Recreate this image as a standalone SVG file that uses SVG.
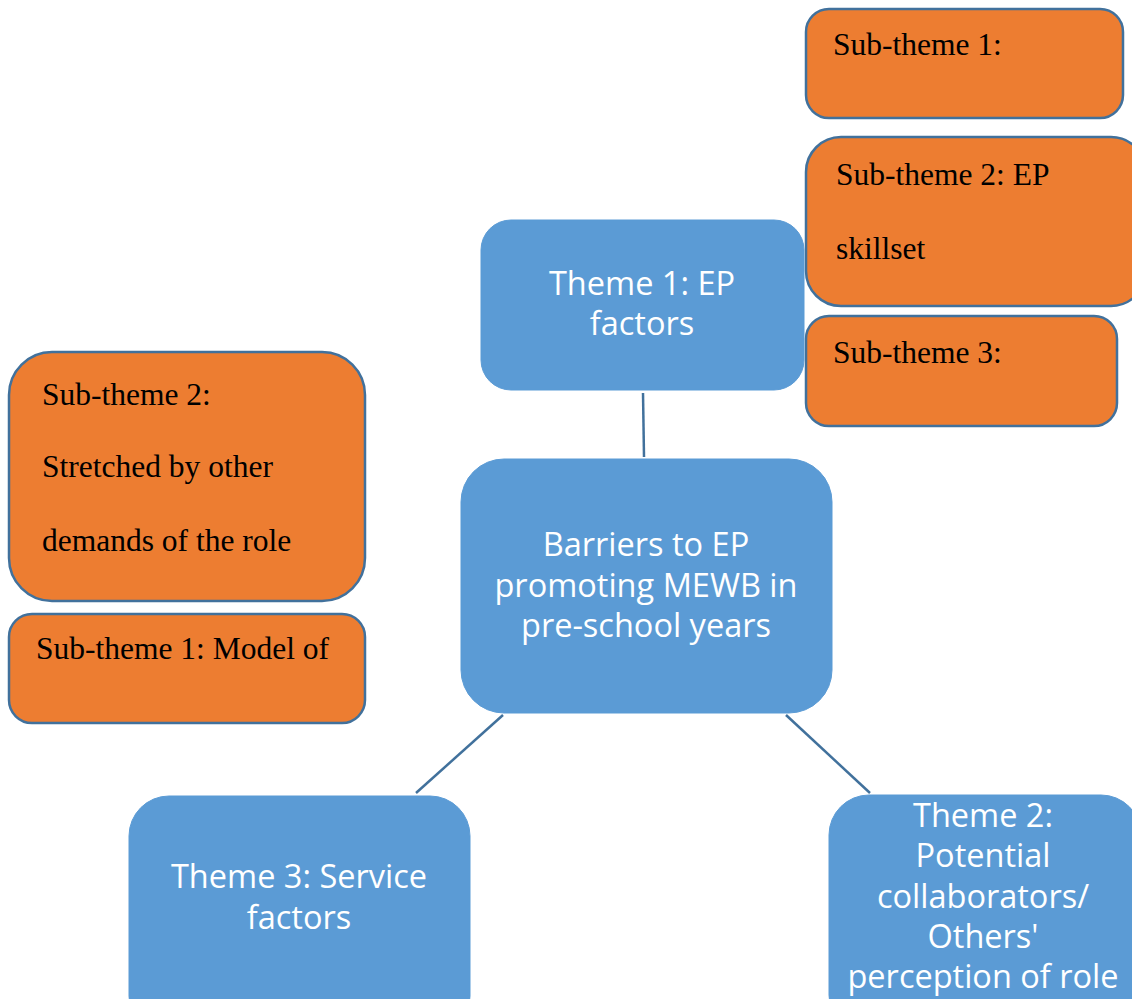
<svg xmlns="http://www.w3.org/2000/svg" width="1132" height="999" viewBox="0 0 1132 999">
<style>
.blue{fill:#5B9BD5;stroke:#5B9BD5;stroke-width:1}
.orange{fill:#ED7D31;stroke:#41719C;stroke-width:2.5}
.bt{font-family:"Open Sans","Liberation Sans",sans-serif;font-size:32.5px;fill:#FFFFFF;text-anchor:middle}
.ot{font-family:"Liberation Serif","Times New Roman",serif;font-size:31.5px;fill:#000000}
.conn line{stroke:#41719C;stroke-width:2.5}
</style>
<rect width="1132" height="999" fill="#FFFFFF"/>
<g class="conn" id="connectors">
<line x1="643" y1="393" x2="644" y2="457"/>
<line x1="503" y1="715" x2="416" y2="793"/>
<line x1="786" y1="715" x2="870" y2="793"/>
</g>
<g id="sub1-right">
<rect class="orange" x="806" y="9" width="317" height="109" rx="23"/>
<text class="ot" x="833" y="55">Sub-theme 1:</text>
</g>
<g id="sub2-right">
<rect class="orange" x="806" y="137" width="340" height="169" rx="35"/>
<text class="ot" x="836" y="185">Sub-theme 2: EP</text>
<text class="ot" x="836" y="259">skillset</text>
</g>
<g id="sub3-right">
<rect class="orange" x="806" y="316" width="311" height="110" rx="23"/>
<text class="ot" x="833" y="363">Sub-theme 3:</text>
</g>
<g id="theme1">
<rect class="blue" x="481" y="220" width="323" height="170" rx="30"/>
<text class="bt" x="642" y="295">Theme 1: EP</text>
<text class="bt" x="642" y="335">factors</text>
</g>
<g id="sub2-left">
<rect class="orange" x="9" y="352" width="356" height="249" rx="43"/>
<text class="ot" x="42" y="405">Sub-theme 2:</text>
<text class="ot" x="42" y="477">Stretched by other</text>
<text class="ot" x="42" y="551">demands of the role</text>
</g>
<g id="sub1-left">
<rect class="orange" x="9" y="614" width="356" height="109" rx="23"/>
<text class="ot" x="36" y="659">Sub-theme 1: Model of</text>
</g>
<g id="center">
<rect class="blue" x="461" y="459" width="371" height="254" rx="43"/>
<text class="bt" x="646" y="556">Barriers to EP</text>
<text class="bt" x="646" y="597">promoting MEWB in</text>
<text class="bt" x="646" y="637">pre-school years</text>
</g>
<g id="theme3">
<rect class="blue" x="129" y="796" width="341" height="240" rx="40"/>
<text class="bt" x="299" y="888">Theme 3: Service</text>
<text class="bt" x="299" y="929">factors</text>
</g>
<g id="theme2">
<rect class="blue" x="829" y="795" width="312" height="240" rx="40"/>
<text class="bt" x="983" y="827">Theme 2:</text>
<text class="bt" x="983" y="867">Potential</text>
<text class="bt" x="983" y="908">collaborators/</text>
<text class="bt" x="983" y="948">Others'</text>
<text class="bt" x="983" y="988">perception of role</text>
</g>
</svg>
